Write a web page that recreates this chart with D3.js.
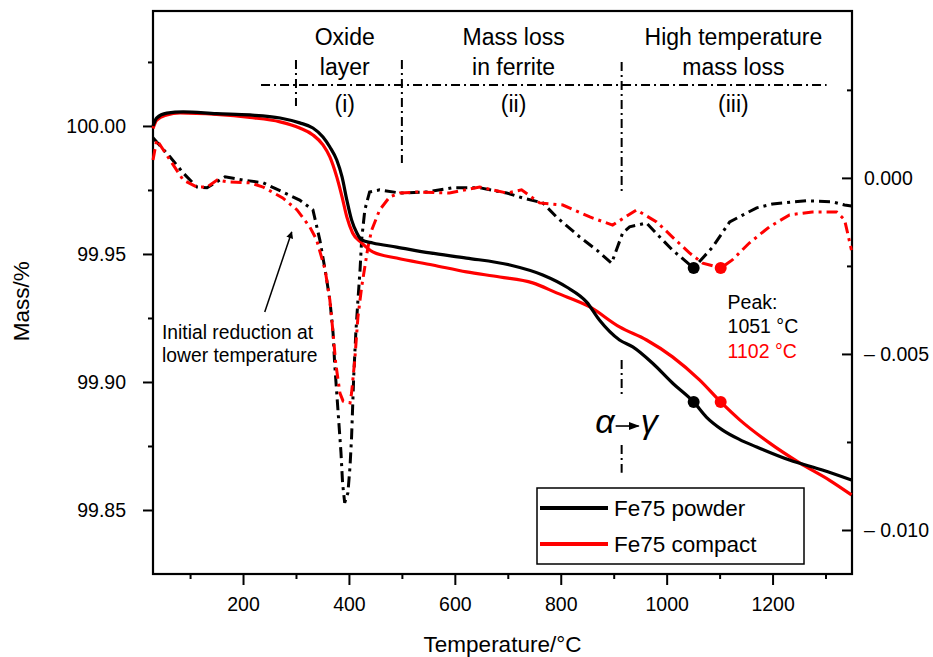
<!DOCTYPE html>
<html>
<head>
<meta charset="utf-8">
<script src="https://cdn.jsdelivr.net/npm/d3@7"></script>
<style>
body { margin: 0; background: #fff; }
text { font-family: "Liberation Sans", Arial, sans-serif; }
</style>
</head>
<body>
<svg id="drawing_region"></svg>
<script>
// TG curves (left axis, Mass/%)
const tg_temp_powder = [30, 37, 56, 87, 150, 213, 270, 307, 332, 351, 364, 377, 387, 396, 405, 415, 424, 445, 490, 553,
    622, 704, 766, 811, 849, 873, 911, 936, 973, 1011, 1051, 1075, 1105, 1138, 1170, 1232, 1294, 1349];
const tg_mass_powder = [100.0000, 100.0031, 100.0050, 100.0055, 100.0048, 100.0043, 100.0031, 100.0012, 99.9992, 99.9957,
    99.9918, 99.9867, 99.9801, 99.9711, 99.9633, 99.9582, 99.9555, 99.9543, 99.9527, 99.9504,
    99.9484, 99.9457, 99.9418, 99.9371, 99.9312, 99.9242, 99.9164, 99.9137, 99.9074, 99.8996,
    99.8922, 99.8863, 99.8813, 99.8775, 99.8746, 99.8695, 99.8656, 99.8617];

const tg_temp_compact = [30, 37, 56, 81, 150, 213, 270, 307, 332, 351, 364, 377, 387, 396, 407, 424, 445, 490, 558, 622,
    685, 747, 792, 855, 911, 962, 1011, 1062, 1102, 1138, 1194, 1251, 1307, 1349];
const tg_mass_compact = [99.9990, 100.0023, 100.0043, 100.0051, 100.0045, 100.0033, 100.0016, 99.9992, 99.9965, 99.9926,
    99.9879, 99.9801, 99.9723, 99.9645, 99.9582, 99.9543, 99.9508, 99.9484, 99.9457, 99.9430,
    99.9410, 99.9387, 99.9348, 99.9293, 99.9215, 99.9164, 99.9098, 99.9008, 99.8922,
    99.8852, 99.8762, 99.8684, 99.8617, 99.8559];

// DTG curves (right axis)
const dtg_temp_powder = [30, 62, 87, 113, 132, 166, 200, 238, 275, 307, 332, 345, 355, 364, 370, 373, 377, 381, 385, 388,
    392, 398, 402, 405, 407, 409, 413, 417, 421, 424, 430, 439, 458, 496, 547, 596, 647, 698, 728, 766,
    792, 836, 868, 896, 917, 930, 962, 987, 1011, 1051, 1087, 1119, 1170, 1200, 1264, 1313, 1336, 1349];
const dtg_val_powder = [0.00114, 0.00060, 0.00014, -0.00026, -0.00028, 0.00003, -0.00006, -0.00014, -0.00040, -0.00063,
    -0.00091, -0.00176, -0.00261, -0.00347, -0.00440, -0.00526, -0.00611, -0.00696, -0.00781, -0.00867,
    -0.00923, -0.00895, -0.00821, -0.00736, -0.00651, -0.00565, -0.00440, -0.00347, -0.00261, -0.00176,
    -0.00091, -0.00040, -0.00034, -0.00043, -0.00040, -0.00028, -0.00028, -0.00043, -0.00057, -0.00071,
    -0.00111, -0.00168, -0.00205, -0.00242, -0.00156, -0.00139, -0.00128, -0.00168, -0.00205, -0.00256,
    -0.00196, -0.00125, -0.00085, -0.00074, -0.00065, -0.00068, -0.00077, -0.00080];

const dtg_temp_compact = [30, 37, 62, 87, 113, 132, 151, 170, 213, 238, 275, 302, 326, 339, 355, 364, 370, 375, 383, 389,
    402, 405, 411, 417, 424, 430, 436, 443, 458, 477, 496, 528, 590, 647, 698, 726, 760, 804, 855, 898,
    943, 981, 1011, 1043, 1068, 1102, 1124, 1156, 1194, 1232, 1275, 1321, 1336, 1349];
const dtg_val_compact = [0.00051, 0.00108, 0.00051, -0.00006, -0.00026, -0.00026, -0.00006, -0.00011, -0.00014, -0.00026,
    -0.00057, -0.00091, -0.00139, -0.00176, -0.00261, -0.00347, -0.00440, -0.00526, -0.00611, -0.00634,
    -0.00639, -0.00611, -0.00517, -0.00395, -0.00310, -0.00253, -0.00196, -0.00148, -0.00091, -0.00054,
    -0.00043, -0.00040, -0.00043, -0.00026, -0.00043, -0.00034, -0.00071, -0.00077, -0.00111, -0.00134,
    -0.00091, -0.00125, -0.00168, -0.00213, -0.00242, -0.00256, -0.00233, -0.00185, -0.00139, -0.00105,
    -0.00097, -0.00097, -0.00119, -0.00205];

const series_names = ["Fe75 powder", "Fe75 compact"];
const peak_temps = [1051, 1102];

const x_ticks = [200, 400, 600, 800, 1000, 1200];
const x_minor_ticks = [100, 300, 500, 700, 900, 1100, 1300];
const left_ticks = [99.85, 99.90, 99.95, 100.00];
const left_minor_ticks = [99.875, 99.925, 99.975, 100.025];
const right_ticks = [-0.010, -0.005, 0.000];
const right_minor_ticks = [-0.0075, -0.0025, 0.0025];

const region_labels = [["Oxide", "layer", "(i)"], ["Mass loss", "in ferrite", "(ii)"], ["High temperature", "mass loss", "(iii)"]];
const region_centers = [392, 711, 1126];
const boundary_temps = [300, 500, 915];

let config = {
    parent: '#drawing_region',
    width: 933,
    height: 657,
    margin: {top: 11, right: 81, bottom: 83, left: 153},
    colors: ['#000000', '#ff0000']
};

class TGPlot {

    constructor( config ) {
        this.config = config;
        this.init();
    }

    init() {
        let self = this;

        self.svg = d3.select( self.config.parent )
            .attr('width', self.config.width)
            .attr('height', self.config.height);

        self.inner_width = self.config.width - self.config.margin.left - self.config.margin.right;
        self.inner_height = self.config.height - self.config.margin.top - self.config.margin.bottom;

        self.chart = self.svg.append('g')
            .attr('transform', `translate(${self.config.margin.left}, ${self.config.margin.top})`);

        self.xscale = d3.scaleLinear()
            .domain( [30, 1350] )
            .range( [0, self.inner_width] );

        self.yscale_mass = d3.scaleLinear()
            .domain( [99.825, 100.0449] )
            .range( [self.inner_height, 0] );

        self.yscale_dtg = d3.scaleLinear()
            .domain( [-0.01125, 0.00474] )
            .range( [self.inner_height, 0] );

        self.tg = [
            tg_temp_powder.map( (t, i) => ({x: t, y: tg_mass_powder[i]}) ),
            tg_temp_compact.map( (t, i) => ({x: t, y: tg_mass_compact[i]}) )
        ];
        self.dtg = [
            dtg_temp_powder.map( (t, i) => ({x: t, y: dtg_val_powder[i]}) ),
            dtg_temp_compact.map( (t, i) => ({x: t, y: dtg_val_compact[i]}) )
        ];

        self.defs = self.svg.append('defs');
        self.defs.append('marker')
            .attr('id', 'arrowhead')
            .attr('viewBox', '0 0 10 10')
            .attr('refX', 9).attr('refY', 5)
            .attr('markerWidth', 7).attr('markerHeight', 7)
            .attr('markerUnits', 'userSpaceOnUse')
            .attr('orient', 'auto')
            .append('path')
            .attr('d', 'M0,0 L10,5 L0,10 z')
            .attr('fill', '#000');
        self.defs.append('marker')
            .attr('id', 'arrowhead2')
            .attr('viewBox', '0 0 10 10')
            .attr('refX', 9).attr('refY', 5)
            .attr('markerWidth', 11).attr('markerHeight', 8)
            .attr('markerUnits', 'userSpaceOnUse')
            .attr('orient', 'auto')
            .attr('preserveAspectRatio', 'none')
            .append('path')
            .attr('d', 'M0,0 L10,5 L0,10 z')
            .attr('fill', '#000');
    }

    render() {
        let self = this;
        const x = self.xscale, ym = self.yscale_mass, yd = self.yscale_dtg;
        const W = self.inner_width, H = self.inner_height;

        // axes
        const xaxis = d3.axisBottom( x ).tickValues( x_ticks ).tickSize(11).tickPadding(12).tickSizeOuter(0)
            .tickFormat( d3.format('d') );
        const xaxis_minor = d3.axisBottom( x ).tickValues( x_minor_ticks ).tickSize(5).tickFormat('').tickSizeOuter(0);
        const laxis = d3.axisLeft( ym ).tickValues( left_ticks ).tickSize(10).tickPadding(17)
            .tickFormat( d3.format('.2f') ).tickSizeOuter(0);
        const laxis_minor = d3.axisLeft( ym ).tickValues( left_minor_ticks ).tickSize(5).tickFormat('').tickSizeOuter(0);
        const raxis = d3.axisRight( yd ).tickValues( right_ticks ).tickSizeInner(-10).tickPadding(12).tickSizeOuter(0)
            .tickFormat( d => d === 0 ? '0.000' : '\u2013 ' + Math.abs(d).toFixed(3) );
        const raxis_minor = d3.axisRight( yd ).tickValues( right_minor_ticks ).tickSizeInner(-5).tickFormat('').tickSizeOuter(0);

        const groups = [
            [xaxis, `translate(0, ${H})`], [xaxis_minor, `translate(0, ${H})`],
            [laxis, 'translate(0, 0)'], [laxis_minor, 'translate(0, 0)'],
            [raxis, `translate(${W}, 0)`], [raxis_minor, `translate(${W}, 0)`]
        ];
        groups.forEach( g => {
            const grp = self.chart.append('g').attr('transform', g[1]).call( g[0] );
            grp.select('.domain').remove();
            grp.selectAll('line').attr('stroke', '#000').attr('stroke-width', 2);
            grp.selectAll('text')
                .attr('font-family', '"Liberation Sans", Arial, sans-serif')
                .attr('font-size', 19.5)
                .attr('fill', '#000');
        });

        self.chart.append('rect')
            .attr('x', 0).attr('y', 0)
            .attr('width', W).attr('height', H)
            .attr('fill', 'none')
            .attr('stroke', '#000')
            .attr('stroke-width', 2.2);

        // axis titles
        self.svg.append('text')
            .attr('x', self.config.margin.left + W / 2)
            .attr('y', 652)
            .attr('text-anchor', 'middle')
            .attr('font-size', 22.5)
            .text('Temperature/°C');

        self.svg.append('text')
            .attr('transform', `translate(29, ${self.config.margin.top + ym(99.9315)}) rotate(-90)`)
            .attr('text-anchor', 'middle')
            .attr('font-size', 22.5)
            .text('Mass/%');

        // region annotations
        const dashdot_thin = '9,4,2,4';
        self.chart.append('line')
            .attr('x1', x(234)).attr('x2', x(1302))
            .attr('y1', ym(100.016)).attr('y2', ym(100.016))
            .attr('stroke', '#000').attr('stroke-width', 2)
            .attr('stroke-dasharray', dashdot_thin);

        const boundary_segments = [
            [[100.0258, 100.0078]],
            [[100.0258, 99.9855]],
            [[100.025, 99.973], [99.9086, 99.8941], [99.8754, 99.8645]]
        ];
        boundary_temps.forEach( (t, i) => {
            boundary_segments[i].forEach( s => {
                self.chart.append('line')
                    .attr('x1', x(t)).attr('x2', x(t))
                    .attr('y1', ym(s[0])).attr('y2', ym(s[1]))
                    .attr('stroke', '#000').attr('stroke-width', 2)
                    .attr('stroke-dasharray', dashdot_thin);
            });
        });

        region_labels.forEach( (lines, i) => {
            const baselines = [100.0317, 100.0200, 100.0055];
            lines.forEach( (s, j) => {
                self.chart.append('text')
                    .attr('x', x(region_centers[i]))
                    .attr('y', ym(baselines[j]))
                    .attr('text-anchor', 'middle')
                    .attr('font-size', 23)
                    .text(s);
            });
        });

        // curves
        const tg_line = d3.line()
            .x( d => x(d.x) )
            .y( d => ym(d.y) )
            .curve( d3.curveMonotoneX );
        const dtg_line = d3.line()
            .x( d => x(d.x) )
            .y( d => yd(d.y) );

        [0, 1].forEach( i => {
            self.chart.append('path')
                .datum( self.dtg[i] )
                .attr('d', dtg_line)
                .attr('fill', 'none')
                .attr('stroke', self.config.colors[i])
                .attr('stroke-width', 3)
                .attr('stroke-dasharray', '11,5,3,5');
        });
        [1, 0].forEach( i => {
            self.chart.append('path')
                .datum( self.tg[i] )
                .attr('d', tg_line)
                .attr('fill', 'none')
                .attr('stroke', self.config.colors[i])
                .attr('stroke-width', 3.2);
        });

        // peak markers
        peak_temps.forEach( (t, i) => {
            const tg_pt = self.tg[i].find( d => d.x === t );
            const dtg_pt = self.dtg[i].find( d => d.x === t );
            self.chart.append('circle')
                .attr('cx', x(tg_pt.x)).attr('cy', ym(tg_pt.y))
                .attr('r', 6).attr('fill', self.config.colors[i]);
            self.chart.append('circle')
                .attr('cx', x(dtg_pt.x)).attr('cy', yd(dtg_pt.y))
                .attr('r', 6).attr('fill', self.config.colors[i]);
        });

        // peak text
        const peak_text = ['Peak:', peak_temps[0] + ' °C', peak_temps[1] + ' °C'];
        const peak_colors = ['#000', self.config.colors[0], self.config.colors[1]];
        peak_text.forEach( (s, j) => {
            self.chart.append('text')
                .attr('x', x(1115))
                .attr('y', yd(-0.00372) + j * 24.5)
                .attr('font-size', 19.5)
                .attr('fill', peak_colors[j])
                .text(s);
        });

        // initial reduction annotation
        self.chart.append('line')
            .attr('x1', x(241)).attr('y1', ym(99.9273))
            .attr('x2', x(292)).attr('y2', ym(99.9586))
            .attr('stroke', '#000').attr('stroke-width', 1.5)
            .attr('marker-end', 'url(#arrowhead)');
        ['Initial reduction at', 'lower temperature'].forEach( (s, j) => {
            self.chart.append('text')
                .attr('x', x(47))
                .attr('y', ym(99.9168) + j * 23)
                .attr('font-size', 19.3)
                .text(s);
        });

        // alpha -> gamma
        const xb = x(boundary_temps[2]);
        self.chart.append('text')
            .attr('x', xb - 7).attr('y', ym(99.8800))
            .attr('text-anchor', 'end')
            .attr('font-family', '"Liberation Serif", "Times New Roman", serif')
            .attr('font-style', 'italic')
            .attr('font-size', 34)
            .text('α');
        self.chart.append('text')
            .attr('x', xb + 19).attr('y', ym(99.8800))
            .attr('font-family', '"Liberation Serif", "Times New Roman", serif')
            .attr('font-style', 'italic')
            .attr('font-size', 34)
            .text('γ');
        self.chart.append('line')
            .attr('x1', xb - 6).attr('x2', xb + 17)
            .attr('y1', ym(99.8828)).attr('y2', ym(99.8828))
            .attr('stroke', '#000').attr('stroke-width', 1.6)
            .attr('marker-end', 'url(#arrowhead2)');

        // legend
        const legend = self.chart.append('g')
            .attr('transform', `translate(${W - 315}, ${H - 86})`);
        legend.append('rect')
            .attr('x', 0).attr('y', 0)
            .attr('width', 267).attr('height', 76)
            .attr('fill', '#fff')
            .attr('stroke', '#000')
            .attr('stroke-width', 1.5);
        series_names.forEach( (s, i) => {
            legend.append('line')
                .attr('x1', 3).attr('x2', 71)
                .attr('y1', 20 + i * 36).attr('y2', 20 + i * 36)
                .attr('stroke', self.config.colors[i])
                .attr('stroke-width', 4);
            legend.append('text')
                .attr('x', 77)
                .attr('y', 28 + i * 36)
                .attr('font-size', 22.5)
                .text(s);
        });
    }
}

const tg_plot = new TGPlot( config );
tg_plot.render();
</script>
</body>
</html>
